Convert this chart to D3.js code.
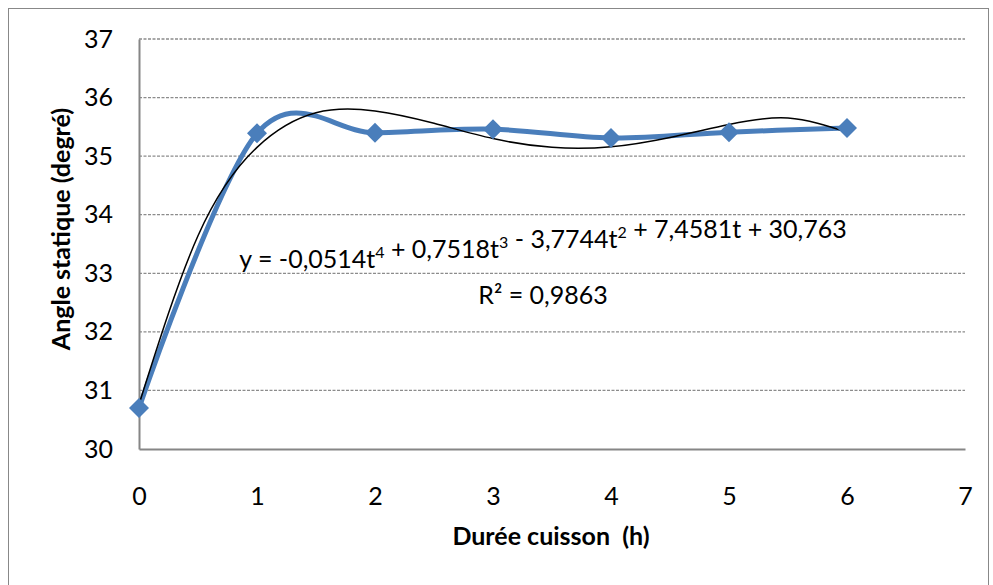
<!DOCTYPE html>
<html>
<head>
<meta charset="utf-8">
<script src="https://cdn.jsdelivr.net/npm/d3@7"></script>
<style>
  body { margin: 0; background: #fff; }
  text { font-family: Lato, "Open Sans", sans-serif; fill: #000; }
</style>
</head>
<body>
<div id="chart"></div>
<script>
const WIDTH = 993, HEIGHT = 585

// measured points
const hours = [0, 1, 2, 3, 4, 5, 6]
const angles = [30.70, 35.39, 35.40, 35.46, 35.31, 35.41, 35.48]

// polynomial trendline
const trendT = [0, 0.5, 1, 1.5, 2, 2.5, 3, 3.5, 4, 4.5, 5, 5.5, 6]
const trendY = [30.76, 33.64, 35.15, 35.74, 35.77, 35.56, 35.30, 35.15, 35.16, 35.32, 35.54, 35.65, 35.41]

const xTicks = [0, 1, 2, 3, 4, 5, 6, 7]
const yTicks = [30, 31, 32, 33, 34, 35, 36, 37]

const LEFT = 139, TOP = 39, RIGHT = 965, BOTTOM = 449

const svg = d3.select('#chart').append("svg").attr("width", WIDTH).attr("height", HEIGHT)

// outer frame
svg.append("rect").attr("x", 8.5).attr("y", 8.5).attr("width", 980).attr("height", 590)
    .attr("fill", "none").attr("stroke", "#888").attr("stroke-width", 1)

const x = d3.scaleLinear().domain([0, 7]).range([LEFT, RIGHT])
const y = d3.scaleLinear().domain([30, 37]).range([BOTTOM, TOP])

// dashed gridlines
svg.append("g").selectAll("line").data(yTicks.slice(1)).enter().append("line")
    .attr("x1", LEFT).attr("x2", RIGHT).attr("y1", d => y(d)).attr("y2", d => y(d))
    .attr("stroke", "#8c8c8c").attr("stroke-width", 1.3).attr("stroke-dasharray", "3,1.5")

// axes, no tick marks
const gx = svg.append("g").attr("transform", "translate(0," + BOTTOM + ")")
    .call(d3.axisBottom(x).tickValues(xTicks).tickSize(0).tickPadding(38).tickFormat(d3.format("d")))
const gy = svg.append("g").attr("transform", "translate(" + LEFT + ",0)")
    .call(d3.axisLeft(y).tickValues(yTicks).tickSize(0).tickPadding(26).tickFormat(d3.format("d")))
gx.select(".domain").attr("stroke", "#868686").attr("stroke-width", 2)
gy.select(".domain").attr("stroke", "#868686").attr("stroke-width", 2)
svg.selectAll(".tick text").attr("font-size", 25).attr("font-family", "Lato, sans-serif").attr("fill", "#000")

// axis titles
svg.append("text").attr("x", 551).attr("y", 545).attr("text-anchor", "middle")
    .attr("font-size", 25).attr("font-weight", "bold").attr("xml:space", "preserve").text("Durée cuisson  (h)")
svg.append("text").attr("transform", "translate(70,229) rotate(-90)").attr("text-anchor", "middle")
    .attr("font-size", 25).attr("font-weight", "bold").text("Angle statique (degré)")

// series line, smoothed like the spreadsheet
const pts = hours.map((h, i) => [h, angles[i]])
svg.append("path").datum(pts)
    .attr("d", d3.line().x(d => x(d[0])).y(d => y(d[1])).curve(d3.curveCatmullRom.alpha(0)))
    .attr("fill", "none").attr("stroke", "#4a7ebb").attr("stroke-width", 5)

// trendline
const tpts = trendT.map((t, i) => [t, trendY[i]])
svg.append("path").datum(tpts)
    .attr("d", d3.line().x(d => x(d[0])).y(d => y(d[1])).curve(d3.curveNatural))
    .attr("fill", "none").attr("stroke", "#000").attr("stroke-width", 1.5)

// diamond markers
svg.append("g").selectAll("path").data(pts).enter().append("path")
    .attr("transform", d => "translate(" + x(d[0]) + "," + y(d[1]) + ")")
    .attr("d", "M0,-10L10,0L0,10L-10,0Z").attr("fill", "#4a7ebb")

// equation label
const eq = svg.append("text").attr("x", 543).attr("y", 268).attr("text-anchor", "middle").attr("font-size", 25)
const parts = [["y = -0,0514t", "4"], [" + 0,7518t", "3"], [" - 3,7744t", "2"], [" + 7,4581t + 30,763", null]]
parts.forEach(p => {
    eq.append("tspan").attr("xml:space", "preserve").text(p[0])
    if (p[1]) eq.append("tspan").attr("dy", -10).attr("font-size", 16).text(p[1])
    if (p[1]) eq.append("tspan").attr("dy", 10).text("")
})
svg.append("text").attr("x", 543).attr("y", 304).attr("text-anchor", "middle").attr("font-size", 25).text("R² = 0,9863")
</script>
</body>
</html>
